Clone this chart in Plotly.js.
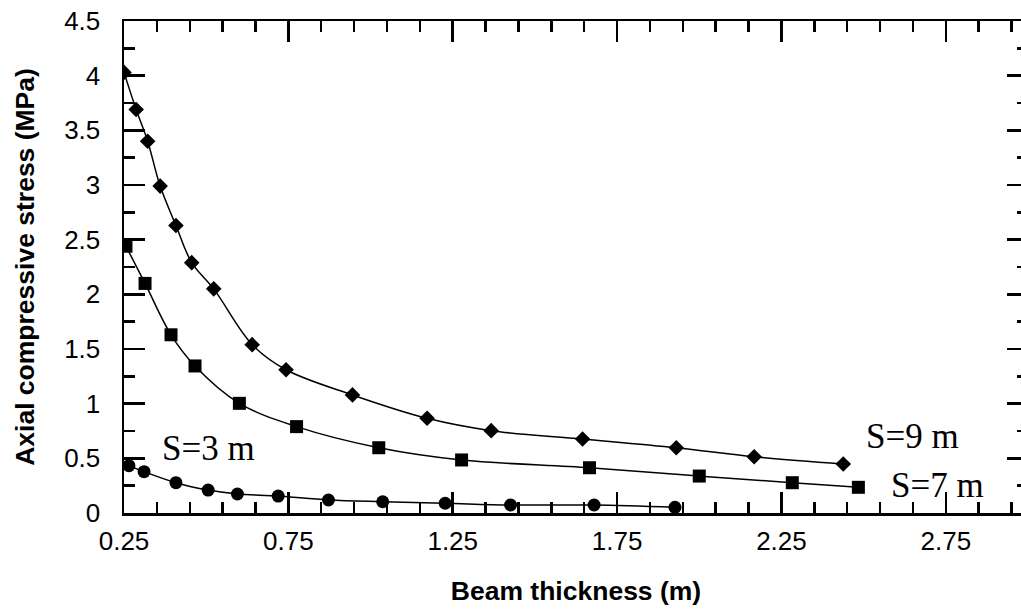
<!DOCTYPE html>
<html>
<head>
<meta charset="utf-8">
<script src="https://cdn.plot.ly/plotly-3.0.1.min.js"></script>
<style>
html,body{margin:0;padding:0;overflow:hidden;background:#fff;}
#chart{width:1060px;height:611px;}
</style>
</head>
<body>
<div id="chart"></div>
<script>
// S = 9 m (diamonds)
const x9 = [0.25, 0.287, 0.322, 0.36, 0.408, 0.456, 0.523, 0.640, 0.743, 0.945, 1.172, 1.367, 1.645, 1.93, 2.167, 2.438];
const y9 = [4.03, 3.69, 3.40, 2.99, 2.63, 2.29, 2.05, 1.54, 1.31, 1.08, 0.866, 0.753, 0.677, 0.597, 0.515, 0.448];
// S = 7 m (squares)
const x7 = [0.256, 0.314, 0.393, 0.466, 0.601, 0.775, 1.025, 1.277, 1.666, 2.0, 2.283, 2.484];
const y7 = [2.44, 2.10, 1.63, 1.345, 1.003, 0.79, 0.597, 0.485, 0.414, 0.338, 0.277, 0.235];
// S = 3 m (circles)
const x3 = [0.265, 0.311, 0.408, 0.506, 0.595, 0.719, 0.872, 1.037, 1.227, 1.426, 1.68, 1.926];
const y3 = [0.433, 0.378, 0.277, 0.21, 0.174, 0.155, 0.119, 0.103, 0.089, 0.073, 0.073, 0.052];

const seriesLabels = ['S=9 m', 'S=7 m', 'S=3 m'];
const xTickVals = [0.25, 0.75, 1.25, 1.75, 2.25, 2.75];
const xTickText = ['0.25', '0.75', '1.25', '1.75', '2.25', '2.75'];
const yTickVals = [0, 0.5, 1, 1.5, 2, 2.5, 3, 3.5, 4, 4.5];
const yTickText = ['0', '0.5', '1', '1.5', '2', '2.5', '3', '3.5', '4', '4.5'];

const lineStyle = {color: '#000', width: 1.5, shape: 'spline', smoothing: 1};

const traces = [
  {x: x9, y: y9, name: seriesLabels[0], mode: 'lines+markers', line: lineStyle,
   marker: {symbol: 'diamond', size: 12, color: '#000'}},
  {x: x7, y: y7, name: seriesLabels[1], mode: 'lines+markers', line: lineStyle,
   marker: {symbol: 'square', size: 13, color: '#000'}},
  {x: x3, y: y3, name: seriesLabels[2], mode: 'lines+markers', line: lineStyle,
   marker: {symbol: 'circle', size: 13, color: '#000'}}
];

const axFont = {family: 'Liberation Sans, Arial, sans-serif', size: 26, color: '#000'};
const titleFont = {family: 'Liberation Sans, Arial, sans-serif', size: 26.5, color: '#000', weight: 'bold'};
const annFont = {family: 'Liberation Serif, Times New Roman, serif', size: 35, color: '#000'};

const layout = {
  width: 1060, height: 611,
  margin: {l: 124, r: 32, t: 21, b: 98},
  paper_bgcolor: '#fff', plot_bgcolor: '#fff',
  showlegend: false,
  xaxis: {
    range: [0.25, 3.0], tickmode: 'array', tickvals: xTickVals, ticktext: xTickText,
    ticks: 'inside', ticklen: 21, tickwidth: 2.5, tickcolor: '#000',
    minor: {dtick: 0.1, tick0: 0.25, ticks: 'inside', ticklen: 11, tickwidth: 2.5, tickcolor: '#000', showgrid: false},
    showline: true, linewidth: 2.5, linecolor: '#000', mirror: 'allticks',
    showgrid: false, zeroline: false, tickfont: axFont, ticklabelstandoff: 3,
    title: {text: 'Beam thickness (m)', font: titleFont, standoff: 27}, automargin: false
  },
  yaxis: {
    range: [0, 4.5], tickmode: 'array', tickvals: yTickVals, ticktext: yTickText,
    ticks: 'inside', ticklen: 21, tickwidth: 2.5, tickcolor: '#000',
    minor: {dtick: 0.25, tick0: 0, ticks: 'inside', ticklen: 11, tickwidth: 2.5, tickcolor: '#000', showgrid: false},
    showline: true, linewidth: 2.5, linecolor: '#000', mirror: 'allticks',
    showgrid: false, zeroline: false, tickfont: axFont, ticklabelstandoff: 16,
    title: {text: 'Axial compressive stress (MPa)', font: titleFont, standoff: 22}, automargin: false
  },
  annotations: [
    {text: seriesLabels[0], x: 2.65, y: 0.704, xref: 'x', yref: 'y', showarrow: false, font: annFont},
    {text: seriesLabels[1], x: 2.726, y: 0.256, xref: 'x', yref: 'y', showarrow: false, font: annFont},
    {text: seriesLabels[2], x: 0.507, y: 0.594, xref: 'x', yref: 'y', showarrow: false, font: annFont}
  ]
};

Plotly.newPlot('chart', traces, layout, {staticPlot: true, displayModeBar: false});
</script>
</body>
</html>
